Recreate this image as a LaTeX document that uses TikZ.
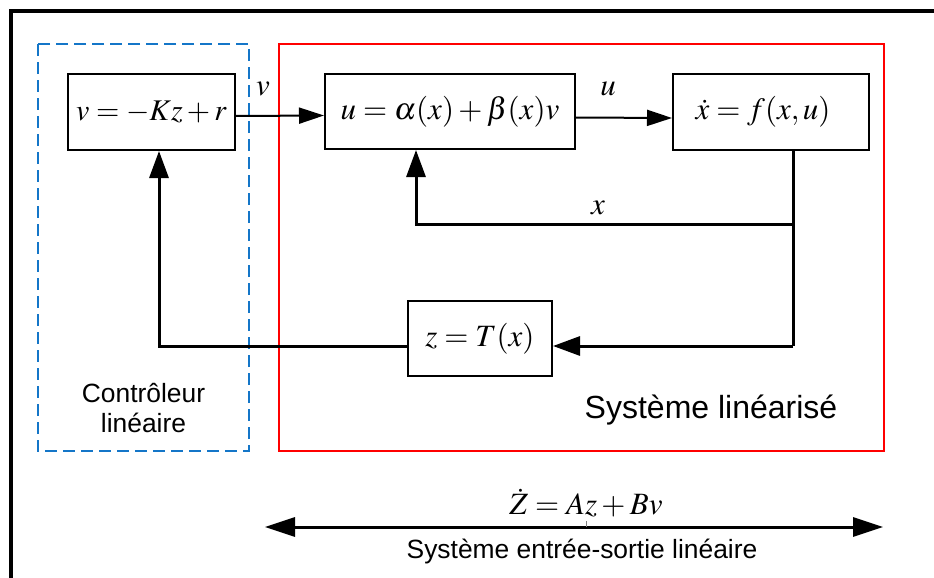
\documentclass[tikz,border=0pt]{standalone}
\usepackage{mathptmx}
\usepackage[no-math]{fontspec}
\setsansfont{Liberation Sans}
\usetikzlibrary{arrows.meta,calc}
\definecolor{ctrlblue}{RGB}{20,118,200}
\begin{document}
\begin{tikzpicture}[x=0.5pt,y=-0.5pt,
  blk/.style={draw,line width=1pt,inner sep=0pt,font=\mathfont},
  thinarrow/.style={line width=1pt,-{Triangle[length=12.5pt,width=8pt]}},
  fbline/.style={line width=1.5pt},
  fbarrow/.style={line width=1.5pt,-{Triangle[length=13.5pt,width=9.5pt]}},
  dblarrow/.style={line width=1.5pt,{Triangle[length=15pt,width=9.5pt]}-{Triangle[length=15pt,width=9.5pt]}},
  lbl/.style={inner sep=0pt,font=\mathfont},
  txt/.style={inner sep=0pt,font=\sffamily\fontsize{13.2}{15}\selectfont,align=center}
]
\newcommand{\mathfont}{\fontsize{15.5}{18}\selectfont}
\useasboundingbox (0,0) rectangle (934,578);
\clip (0,0) rectangle (934,578);
% outer frame (partial)
\draw[line width=2pt] (11.3,590) -- (11.3,11.3) -- (950,11.3);
% group boxes
\draw[ctrlblue,line width=1pt,dash pattern=on 6pt off 3pt] (38,44) rectangle (249,451);
\draw[red,line width=0.9pt] (279,44) rectangle (884,451);
% blocks
\node[blk,minimum width=83.5pt,minimum height=38pt,font=\fontsize{15}{18}\selectfont] (b1) at (151.5,112) {$v=-Kz+r$};
\node[blk,minimum width=125pt,minimum height=37.5pt] (b2) at (450,111.5) {$u=\alpha(x)+\beta(x)v$};
\node[blk,minimum width=98pt,minimum height=38pt] (b3) at (771,112) {\hspace*{-8pt}$\dot{x}=f(x,u)$};
\node[blk,minimum width=72pt,minimum height=37.5pt] (b4) at (480,338.5) {$z=T(x)$};
% forward path
\draw[thinarrow] ([yshift=-2pt]b1.east) -- ([yshift=-2pt]b2.west);
\draw[thinarrow] ([yshift=-3pt]b2.east) -- ([yshift=-3pt]b3.west);
\node[lbl] (lv) at (263,89) {$v$};
\node[lbl] (lu) at (608,89) {$u$};
% feedback paths
\coordinate (tap) at (793,224);
\coordinate (bot) at (793,346);
\draw[fbline] (tap |- b3.south) -- (bot);
\draw[fbarrow] (bot) -- (b4.east |- bot);
\draw[fbarrow] (tap) -| ([xshift=-17pt]b2.south);
\node[lbl] (lx) at (598,208) {$x$};
\draw[fbarrow] (b4.west |- bot) -| ([xshift=3.75pt]b1.south);
% texts
\node[txt] (tctrl) at (143.5,408) {Contrôleur\\linéaire};
\node[txt,font=\sffamily\fontsize{16}{19}\selectfont] (tsys) at (711,410) {Système linéarisé};
% bottom
\coordinate (L) at (265,527);
\coordinate (R) at (883,527);
\draw[dblarrow] (L) -- (R);
\draw[gray,line width=0.4pt] (586,521) -- (586,527);
\node[lbl] (zeq) at (586,503) {$\dot{Z}=Az+Bv$};
\node[txt] (tio) at (582,552) {Système entrée-sortie linéaire};
\end{tikzpicture}
\end{document}
